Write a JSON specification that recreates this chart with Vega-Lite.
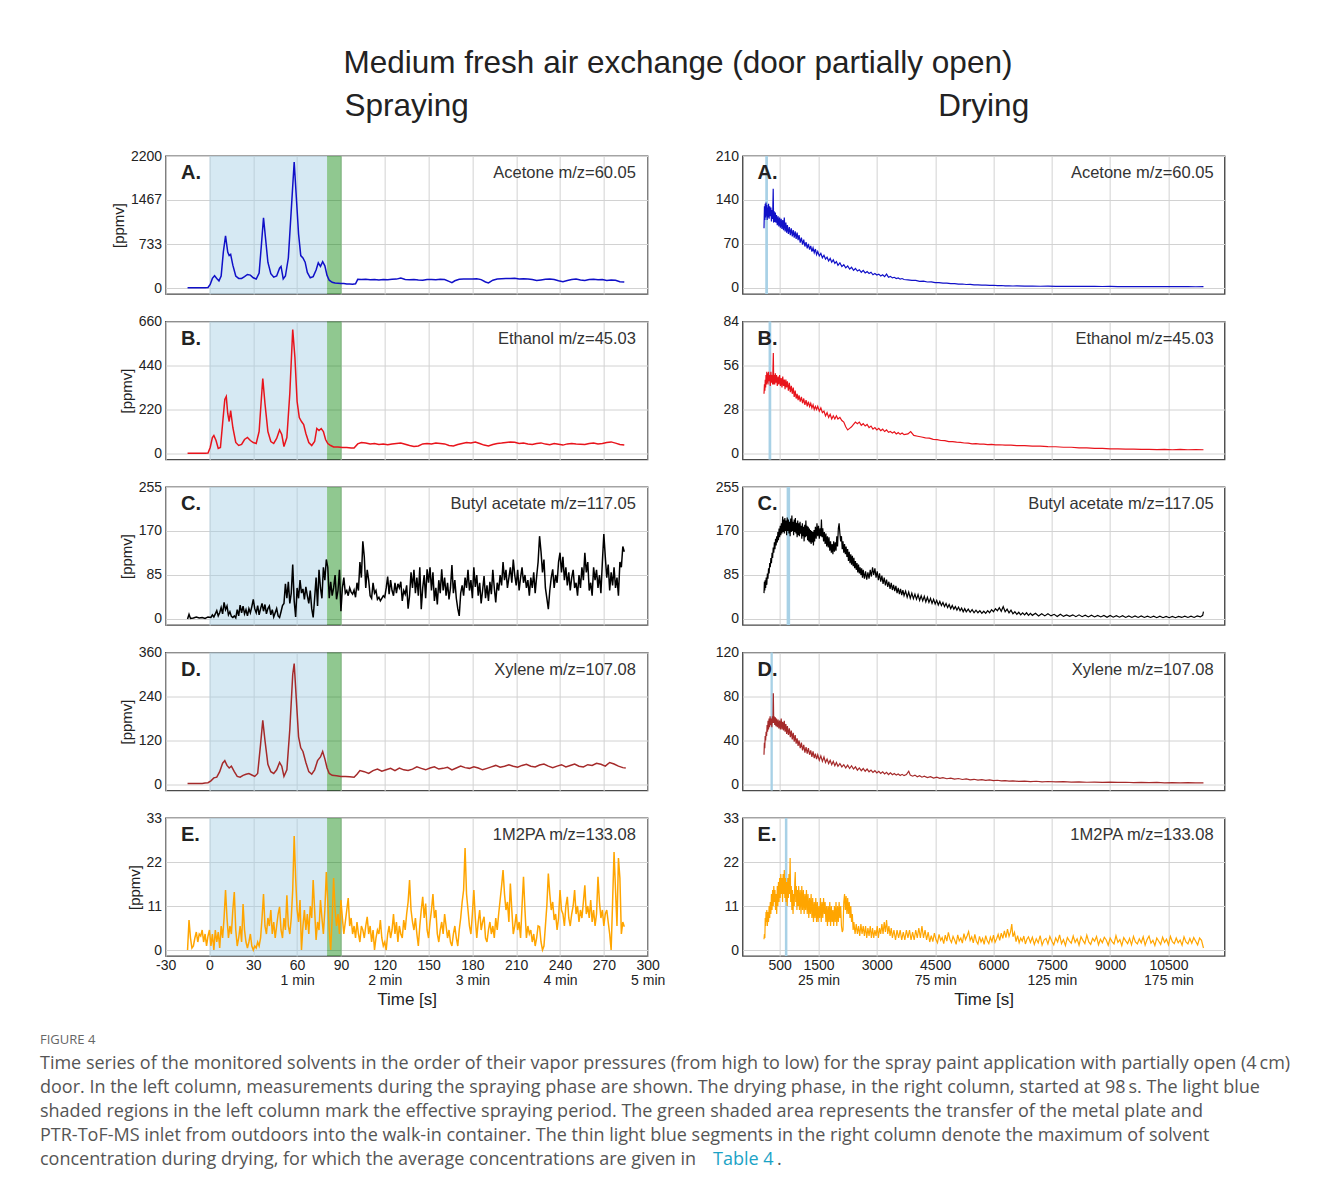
{
"$schema": "https://vega.github.io/schema/vega-lite/v6.json",
"background": "white",
"padding": {"left": 40, "top": 48, "right": 0, "bottom": 10},
"title": {"text": "Medium fresh air exchange (door partially open)", "fontSize": 31.5, "anchor": "middle", "dx": -17.5, "offset": 10},
"datasets": {
"shade": [{"t":0,"t2":80.5,"phase":"spray"},{"t":80.5,"t2":90.5,"phase":"transfer"}],
"maxima": [{"panel":"A","t":130,"t2":200},{"panel":"B","t":215,"t2":285},{"panel":"C","t":680,"t2":770},{"panel":"D","t":265,"t2":325},{"panel":"E","t":635,"t2":700}],
"labels": [{"panel":"A","letter":"A.","name":"Acetone m/z=60.05"},{"panel":"B","letter":"B.","name":"Ethanol m/z=45.03"},{"panel":"C","letter":"C.","name":"Butyl acetate m/z=117.05"},{"panel":"D","letter":"D.","name":"Xylene m/z=107.08"},{"panel":"E","letter":"E.","name":"1M2PA m/z=133.08"}],
"caption": [{"line":0,"kind":"head","text":"FIGURE 4"},{"line":1,"kind":"body","text":"Time series of the monitored solvents in the order of their vapor pressures (from high to low) for the spray paint application with partially open (4\u2009cm)"},{"line":2,"kind":"body","text":"door. In the left column, measurements during the spraying phase are shown. The drying phase, in the right column, started at 98\u2009s. The light blue"},{"line":3,"kind":"body","text":"shaded regions in the left column mark the effective spraying period. The green shaded area represents the transfer of the metal plate and"},{"line":4,"kind":"body","text":"PTR-ToF-MS inlet from outdoors into the walk-in container. The thin light blue segments in the right column denote the maximum of solvent"},{"line":5,"kind":"body","text":"concentration during drying, for which the average concentrations are given in"},{"line":5,"kind":"link","text":"Table 4"},{"line":5,"kind":"dot","text":"."}],
"LA": [{"t":-15,"v":5},{"t":-13,"v":5},{"t":-11,"v":5},{"t":-9,"v":5},{"t":-7,"v":5},{"t":-5,"v":5},{"t":-3,"v":5},{"t":-1,"v":8},{"t":0.5,"v":60},{"t":2,"v":160},{"t":3.5,"v":205},{"t":5,"v":160},{"t":6.5,"v":120},{"t":8,"v":200},{"t":9.5,"v":600},{"t":11,"v":870},{"t":12.5,"v":600},{"t":13.5,"v":540},{"t":14.5,"v":560},{"t":16,"v":380},{"t":18,"v":200},{"t":20,"v":160},{"t":22,"v":160},{"t":24,"v":190},{"t":26,"v":225},{"t":28,"v":215},{"t":30,"v":170},{"t":32,"v":150},{"t":34,"v":250},{"t":35.5,"v":700},{"t":37,"v":1170},{"t":38.5,"v":800},{"t":40,"v":430},{"t":42,"v":240},{"t":44,"v":180},{"t":46,"v":200},{"t":48,"v":330},{"t":49,"v":360},{"t":50.5,"v":150},{"t":52,"v":200},{"t":54,"v":500},{"t":56,"v":1300},{"t":58,"v":2100},{"t":59.5,"v":1500},{"t":61,"v":900},{"t":62.5,"v":540},{"t":64,"v":500},{"t":65.5,"v":430},{"t":67,"v":260},{"t":69,"v":170},{"t":71,"v":190},{"t":73,"v":300},{"t":74.5,"v":420},{"t":76,"v":360},{"t":77.5,"v":440},{"t":79,"v":370},{"t":80.5,"v":210},{"t":82,"v":130},{"t":84,"v":95},{"t":86,"v":85},{"t":88,"v":80},{"t":90,"v":75},{"t":92,"v":75},{"t":94,"v":68},{"t":96,"v":65},{"t":98,"v":62},{"t":100,"v":70},{"t":101.5,"v":145},{"t":104,"v":140},{"t":107,"v":145},{"t":110,"v":138},{"t":113,"v":142},{"t":116,"v":135},{"t":119,"v":140},{"t":122,"v":137},{"t":125,"v":145},{"t":128,"v":148},{"t":131,"v":165},{"t":134,"v":142},{"t":137,"v":138},{"t":140,"v":140},{"t":143,"v":132},{"t":146,"v":128},{"t":149,"v":140},{"t":152,"v":142},{"t":155,"v":138},{"t":158,"v":145},{"t":161,"v":140},{"t":164,"v":110},{"t":166,"v":90},{"t":168,"v":120},{"t":171,"v":145},{"t":174,"v":150},{"t":177,"v":148},{"t":180,"v":152},{"t":183,"v":155},{"t":186,"v":140},{"t":189,"v":100},{"t":191,"v":85},{"t":194,"v":130},{"t":197,"v":150},{"t":200,"v":155},{"t":203,"v":158},{"t":206,"v":160},{"t":209,"v":162},{"t":212,"v":150},{"t":215,"v":155},{"t":218,"v":148},{"t":221,"v":140},{"t":224,"v":125},{"t":227,"v":135},{"t":230,"v":145},{"t":233,"v":150},{"t":236,"v":140},{"t":239,"v":120},{"t":242,"v":105},{"t":245,"v":125},{"t":248,"v":140},{"t":251,"v":150},{"t":254,"v":135},{"t":257,"v":125},{"t":260,"v":140},{"t":263,"v":145},{"t":266,"v":138},{"t":269,"v":140},{"t":272,"v":125},{"t":275,"v":135},{"t":278,"v":130},{"t":281,"v":105},{"t":284,"v":100}],
"LB": [{"t":-15,"v":1},{"t":-13,"v":1},{"t":-11,"v":1},{"t":-9,"v":1},{"t":-7,"v":1},{"t":-5,"v":1},{"t":-3,"v":1},{"t":-1,"v":2},{"t":0.5,"v":30},{"t":2,"v":80},{"t":3,"v":90},{"t":4.5,"v":65},{"t":6,"v":25},{"t":7.5,"v":30},{"t":9,"v":150},{"t":10.5,"v":270},{"t":11.5,"v":285},{"t":12.5,"v":200},{"t":13.5,"v":160},{"t":14.5,"v":215},{"t":16,"v":130},{"t":18,"v":55},{"t":20,"v":40},{"t":22,"v":45},{"t":24,"v":70},{"t":26,"v":80},{"t":28,"v":65},{"t":30,"v":55},{"t":32,"v":50},{"t":34,"v":110},{"t":35.5,"v":270},{"t":36.5,"v":375},{"t":38,"v":250},{"t":40,"v":110},{"t":42,"v":60},{"t":44,"v":50},{"t":46,"v":75},{"t":48,"v":118},{"t":49.5,"v":95},{"t":51,"v":35},{"t":53,"v":80},{"t":55,"v":300},{"t":57,"v":620},{"t":58.5,"v":480},{"t":60,"v":260},{"t":61.5,"v":180},{"t":63,"v":160},{"t":64.5,"v":145},{"t":66,"v":100},{"t":68,"v":55},{"t":70,"v":40},{"t":72,"v":60},{"t":73.5,"v":125},{"t":75,"v":115},{"t":76.5,"v":125},{"t":78,"v":110},{"t":79.5,"v":70},{"t":81,"v":50},{"t":83,"v":40},{"t":85,"v":33},{"t":88,"v":32},{"t":91,"v":30},{"t":94,"v":30},{"t":97,"v":28},{"t":99,"v":28},{"t":101.5,"v":48},{"t":104,"v":55},{"t":107,"v":52},{"t":110,"v":48},{"t":113,"v":50},{"t":116,"v":45},{"t":119,"v":47},{"t":122,"v":44},{"t":125,"v":48},{"t":128,"v":50},{"t":131,"v":52},{"t":134,"v":46},{"t":137,"v":40},{"t":140,"v":35},{"t":143,"v":38},{"t":146,"v":48},{"t":149,"v":50},{"t":152,"v":47},{"t":155,"v":52},{"t":158,"v":50},{"t":161,"v":48},{"t":164,"v":40},{"t":167,"v":38},{"t":170,"v":45},{"t":173,"v":50},{"t":176,"v":55},{"t":179,"v":53},{"t":182,"v":57},{"t":185,"v":50},{"t":188,"v":42},{"t":191,"v":38},{"t":194,"v":45},{"t":197,"v":50},{"t":200,"v":52},{"t":203,"v":55},{"t":206,"v":58},{"t":209,"v":56},{"t":212,"v":50},{"t":215,"v":52},{"t":218,"v":48},{"t":221,"v":45},{"t":224,"v":50},{"t":227,"v":53},{"t":230,"v":47},{"t":233,"v":44},{"t":236,"v":50},{"t":239,"v":46},{"t":242,"v":42},{"t":245,"v":48},{"t":248,"v":50},{"t":251,"v":47},{"t":254,"v":46},{"t":257,"v":45},{"t":260,"v":50},{"t":263,"v":52},{"t":266,"v":48},{"t":269,"v":50},{"t":272,"v":55},{"t":275,"v":58},{"t":278,"v":52},{"t":281,"v":45},{"t":284,"v":42}],
"LC": [{"t":-15,"v":0},{"t":-14,"v":9},{"t":-13,"v":1},{"t":-11,"v":2},{"t":-9,"v":4},{"t":-7,"v":2},{"t":-5,"v":3},{"t":-3,"v":1},{"t":-1,"v":4},{"t":1,"v":3},{"t":2,"v":8},{"t":3,"v":4},{"t":4,"v":10},{"t":5,"v":16},{"t":6,"v":6},{"t":7,"v":12},{"t":8,"v":22},{"t":9,"v":10},{"t":10,"v":32},{"t":11,"v":18},{"t":12,"v":25},{"t":13,"v":8},{"t":14,"v":14},{"t":15,"v":5},{"t":16,"v":3},{"t":17,"v":6},{"t":18,"v":2},{"t":19,"v":18},{"t":20,"v":6},{"t":21,"v":27},{"t":22,"v":12},{"t":23,"v":25},{"t":24,"v":10},{"t":25,"v":18},{"t":26,"v":6},{"t":27,"v":20},{"t":28,"v":12},{"t":29,"v":24},{"t":30,"v":38},{"t":31,"v":20},{"t":32,"v":12},{"t":33,"v":26},{"t":34,"v":8},{"t":35,"v":20},{"t":36,"v":30},{"t":37,"v":15},{"t":38,"v":28},{"t":39,"v":10},{"t":40,"v":20},{"t":41,"v":25},{"t":42,"v":8},{"t":43,"v":18},{"t":44,"v":4},{"t":45,"v":12},{"t":46,"v":20},{"t":47,"v":6},{"t":48,"v":3},{"t":49,"v":14},{"t":50,"v":26},{"t":51,"v":30},{"t":52,"v":68},{"t":53,"v":40},{"t":54,"v":72},{"t":55,"v":30},{"t":56,"v":50},{"t":57,"v":105},{"t":58,"v":35},{"t":59,"v":4},{"t":60,"v":60},{"t":61,"v":40},{"t":62,"v":75},{"t":63,"v":50},{"t":64,"v":58},{"t":65,"v":38},{"t":66,"v":62},{"t":67,"v":45},{"t":68,"v":30},{"t":69,"v":55},{"t":70,"v":20},{"t":71,"v":3},{"t":72,"v":40},{"t":73,"v":80},{"t":74,"v":25},{"t":75,"v":95},{"t":76,"v":60},{"t":77,"v":40},{"t":78,"v":100},{"t":79,"v":75},{"t":80,"v":115},{"t":81,"v":100},{"t":82,"v":40},{"t":83,"v":72},{"t":84,"v":45},{"t":85,"v":60},{"t":86,"v":85},{"t":87,"v":38},{"t":88,"v":55},{"t":89,"v":95},{"t":90,"v":15},{"t":91,"v":60},{"t":92,"v":80},{"t":93,"v":50},{"t":94,"v":55},{"t":95,"v":45},{"t":96,"v":60},{"t":97,"v":52},{"t":98,"v":48},{"t":99,"v":56},{"t":100,"v":42},{"t":101,"v":70},{"t":102,"v":55},{"t":103,"v":110},{"t":104,"v":80},{"t":105,"v":150},{"t":106,"v":120},{"t":107,"v":60},{"t":108,"v":95},{"t":109,"v":75},{"t":110,"v":45},{"t":111,"v":40},{"t":112,"v":70},{"t":113,"v":50},{"t":114,"v":55},{"t":115,"v":38},{"t":116,"v":42},{"t":117,"v":35},{"t":118,"v":40},{"t":119,"v":45},{"t":120,"v":42},{"t":121,"v":60},{"t":122,"v":82},{"t":123,"v":48},{"t":124,"v":75},{"t":125,"v":55},{"t":126,"v":45},{"t":127,"v":70},{"t":128,"v":50},{"t":129,"v":68},{"t":130,"v":60},{"t":131,"v":72},{"t":132,"v":35},{"t":133,"v":55},{"t":134,"v":48},{"t":135,"v":65},{"t":136,"v":20},{"t":137,"v":45},{"t":138,"v":90},{"t":139,"v":60},{"t":140,"v":95},{"t":141,"v":50},{"t":142,"v":80},{"t":143,"v":45},{"t":144,"v":100},{"t":145,"v":19},{"t":146,"v":60},{"t":147,"v":85},{"t":148,"v":40},{"t":149,"v":96},{"t":150,"v":70},{"t":151,"v":100},{"t":152,"v":55},{"t":153,"v":90},{"t":154,"v":35},{"t":155,"v":60},{"t":156,"v":28},{"t":157,"v":75},{"t":158,"v":50},{"t":159,"v":96},{"t":160,"v":55},{"t":161,"v":80},{"t":162,"v":45},{"t":163,"v":70},{"t":164,"v":38},{"t":165,"v":60},{"t":166,"v":104},{"t":167,"v":50},{"t":168,"v":75},{"t":169,"v":40},{"t":170,"v":20},{"t":171,"v":6},{"t":172,"v":50},{"t":173,"v":65},{"t":174,"v":45},{"t":175,"v":80},{"t":176,"v":60},{"t":177,"v":95},{"t":178,"v":55},{"t":179,"v":75},{"t":180,"v":40},{"t":181,"v":100},{"t":182,"v":62},{"t":183,"v":85},{"t":184,"v":45},{"t":185,"v":70},{"t":186,"v":30},{"t":187,"v":55},{"t":188,"v":83},{"t":189,"v":40},{"t":190,"v":65},{"t":191,"v":35},{"t":192,"v":72},{"t":193,"v":48},{"t":194,"v":95},{"t":195,"v":60},{"t":196,"v":32},{"t":197,"v":70},{"t":198,"v":55},{"t":199,"v":85},{"t":200,"v":65},{"t":201,"v":110},{"t":202,"v":75},{"t":203,"v":95},{"t":204,"v":60},{"t":205,"v":80},{"t":206,"v":100},{"t":207,"v":70},{"t":208,"v":115},{"t":209,"v":85},{"t":210,"v":65},{"t":211,"v":95},{"t":212,"v":55},{"t":213,"v":80},{"t":214,"v":100},{"t":215,"v":70},{"t":216,"v":85},{"t":217,"v":60},{"t":218,"v":75},{"t":219,"v":45},{"t":220,"v":80},{"t":221,"v":60},{"t":222,"v":90},{"t":223,"v":50},{"t":224,"v":82},{"t":225,"v":110},{"t":226,"v":160},{"t":227,"v":130},{"t":228,"v":90},{"t":229,"v":115},{"t":230,"v":60},{"t":231,"v":40},{"t":232,"v":19},{"t":233,"v":55},{"t":234,"v":80},{"t":235,"v":96},{"t":236,"v":60},{"t":237,"v":85},{"t":238,"v":70},{"t":239,"v":110},{"t":240,"v":128},{"t":241,"v":90},{"t":242,"v":120},{"t":243,"v":75},{"t":244,"v":100},{"t":245,"v":65},{"t":246,"v":90},{"t":247,"v":55},{"t":248,"v":80},{"t":249,"v":95},{"t":250,"v":60},{"t":251,"v":70},{"t":252,"v":45},{"t":253,"v":85},{"t":254,"v":60},{"t":255,"v":100},{"t":256,"v":75},{"t":257,"v":128},{"t":258,"v":90},{"t":259,"v":110},{"t":260,"v":55},{"t":261,"v":70},{"t":262,"v":45},{"t":263,"v":100},{"t":264,"v":75},{"t":265,"v":95},{"t":266,"v":60},{"t":267,"v":85},{"t":268,"v":50},{"t":269,"v":110},{"t":270,"v":164},{"t":271,"v":120},{"t":272,"v":80},{"t":273,"v":105},{"t":274,"v":55},{"t":275,"v":90},{"t":276,"v":65},{"t":277,"v":100},{"t":278,"v":60},{"t":279,"v":80},{"t":280,"v":45},{"t":281,"v":110},{"t":282,"v":100},{"t":283,"v":140},{"t":284,"v":130}],
"LD": [{"t":-15,"v":3},{"t":-13,"v":3},{"t":-11,"v":3},{"t":-9,"v":3},{"t":-7,"v":3},{"t":-5,"v":3},{"t":-3,"v":4},{"t":-1,"v":5},{"t":1,"v":10},{"t":3,"v":18},{"t":5,"v":20},{"t":7,"v":35},{"t":9,"v":58},{"t":10.5,"v":65},{"t":12,"v":52},{"t":13.5,"v":45},{"t":15,"v":50},{"t":17,"v":35},{"t":19,"v":22},{"t":21,"v":20},{"t":23,"v":25},{"t":25,"v":28},{"t":27,"v":30},{"t":29,"v":26},{"t":31,"v":22},{"t":33,"v":30},{"t":35,"v":110},{"t":36.5,"v":175},{"t":38,"v":120},{"t":40,"v":55},{"t":42,"v":35},{"t":44,"v":30},{"t":46,"v":40},{"t":48,"v":60},{"t":49.5,"v":50},{"t":51,"v":22},{"t":53,"v":40},{"t":55,"v":150},{"t":57,"v":300},{"t":58,"v":330},{"t":59.5,"v":230},{"t":61,"v":130},{"t":62.5,"v":100},{"t":64,"v":90},{"t":66,"v":60},{"t":68,"v":35},{"t":70,"v":28},{"t":72,"v":40},{"t":74,"v":65},{"t":76,"v":75},{"t":77.5,"v":90},{"t":79,"v":70},{"t":80.5,"v":45},{"t":82,"v":30},{"t":84,"v":25},{"t":87,"v":24},{"t":90,"v":22},{"t":93,"v":22},{"t":96,"v":21},{"t":99,"v":20},{"t":101,"v":28},{"t":103,"v":38},{"t":106,"v":35},{"t":109,"v":30},{"t":112,"v":38},{"t":115,"v":42},{"t":118,"v":36},{"t":121,"v":40},{"t":124,"v":44},{"t":127,"v":38},{"t":130,"v":45},{"t":133,"v":40},{"t":136,"v":38},{"t":139,"v":42},{"t":142,"v":48},{"t":145,"v":44},{"t":148,"v":40},{"t":151,"v":45},{"t":154,"v":48},{"t":157,"v":42},{"t":160,"v":44},{"t":163,"v":47},{"t":166,"v":40},{"t":169,"v":45},{"t":172,"v":50},{"t":175,"v":46},{"t":178,"v":44},{"t":181,"v":48},{"t":184,"v":45},{"t":187,"v":40},{"t":190,"v":44},{"t":193,"v":48},{"t":196,"v":52},{"t":199,"v":47},{"t":202,"v":50},{"t":205,"v":54},{"t":208,"v":50},{"t":211,"v":47},{"t":214,"v":52},{"t":217,"v":55},{"t":220,"v":50},{"t":223,"v":48},{"t":226,"v":53},{"t":229,"v":56},{"t":232,"v":50},{"t":235,"v":46},{"t":238,"v":50},{"t":241,"v":54},{"t":244,"v":48},{"t":247,"v":52},{"t":250,"v":56},{"t":253,"v":50},{"t":256,"v":48},{"t":259,"v":54},{"t":262,"v":52},{"t":265,"v":58},{"t":268,"v":55},{"t":271,"v":50},{"t":274,"v":60},{"t":277,"v":56},{"t":280,"v":50},{"t":283,"v":46},{"t":285,"v":45}],
"LE": [{"t":-15,"v":0},{"t":-14,"v":7.5},{"t":-13,"v":3},{"t":-12,"v":0.5},{"t":-11,"v":1},{"t":-10,"v":3},{"t":-9,"v":4.5},{"t":-8,"v":2},{"t":-7,"v":4},{"t":-6,"v":3.5},{"t":-5,"v":5},{"t":-4,"v":2},{"t":-3,"v":4},{"t":-2,"v":1},{"t":-1,"v":3.5},{"t":0,"v":5},{"t":1,"v":1},{"t":2,"v":4},{"t":3,"v":0},{"t":4,"v":5},{"t":5,"v":2},{"t":6,"v":4.5},{"t":7,"v":0.5},{"t":8,"v":6},{"t":9,"v":3},{"t":10,"v":8},{"t":11,"v":15},{"t":12,"v":8},{"t":13,"v":3},{"t":14,"v":6},{"t":15,"v":4},{"t":16,"v":10},{"t":17,"v":14.5},{"t":18,"v":5},{"t":19,"v":1},{"t":20,"v":3},{"t":21,"v":6},{"t":22,"v":2},{"t":23,"v":11.5},{"t":24,"v":5},{"t":25,"v":2},{"t":26,"v":0.5},{"t":27,"v":2},{"t":28,"v":4},{"t":29,"v":1},{"t":30,"v":0},{"t":31,"v":1},{"t":32,"v":0.5},{"t":33,"v":2},{"t":34,"v":1},{"t":35,"v":3},{"t":36,"v":8},{"t":37,"v":14},{"t":38,"v":6},{"t":39,"v":4},{"t":40,"v":8},{"t":41,"v":6},{"t":42,"v":10},{"t":43,"v":4},{"t":44,"v":7},{"t":45,"v":3},{"t":46,"v":6},{"t":47,"v":9},{"t":48,"v":10.8},{"t":49,"v":5},{"t":50,"v":3},{"t":51,"v":8},{"t":52,"v":5},{"t":53,"v":13.7},{"t":54,"v":6},{"t":55,"v":4},{"t":56,"v":8},{"t":57,"v":15},{"t":58,"v":28.5},{"t":59,"v":18},{"t":60,"v":10},{"t":61,"v":7},{"t":62,"v":12.5},{"t":63,"v":0},{"t":64,"v":6},{"t":65,"v":10},{"t":66,"v":5},{"t":67,"v":9},{"t":68,"v":4},{"t":69,"v":11},{"t":70,"v":8},{"t":71,"v":17.5},{"t":72,"v":10},{"t":73,"v":2.5},{"t":74,"v":7},{"t":75,"v":5},{"t":76,"v":12.5},{"t":77,"v":8},{"t":78,"v":4},{"t":79,"v":10},{"t":80,"v":19.5},{"t":81,"v":12},{"t":82,"v":5},{"t":83,"v":0},{"t":84,"v":8},{"t":85,"v":18},{"t":86,"v":10},{"t":87,"v":6},{"t":88,"v":9},{"t":89,"v":4},{"t":90,"v":12.5},{"t":91,"v":8},{"t":92,"v":4},{"t":93,"v":7},{"t":94,"v":10},{"t":95,"v":13},{"t":96,"v":6},{"t":97,"v":8},{"t":98,"v":4},{"t":99,"v":6},{"t":100,"v":3},{"t":101,"v":7},{"t":102,"v":4},{"t":103,"v":2},{"t":104,"v":6},{"t":105,"v":5},{"t":106,"v":3},{"t":107,"v":6},{"t":108,"v":8.3},{"t":109,"v":4},{"t":110,"v":6},{"t":111,"v":2},{"t":112,"v":5},{"t":113,"v":0},{"t":114,"v":3},{"t":115,"v":5},{"t":116,"v":4},{"t":117,"v":7.5},{"t":118,"v":3},{"t":119,"v":1},{"t":120,"v":2},{"t":121,"v":0},{"t":122,"v":4},{"t":123,"v":6},{"t":124,"v":3},{"t":125,"v":5},{"t":126,"v":9},{"t":127,"v":4},{"t":128,"v":7},{"t":129,"v":2},{"t":130,"v":6},{"t":131,"v":4},{"t":132,"v":3},{"t":133,"v":7.5},{"t":134,"v":5},{"t":135,"v":9},{"t":136,"v":12},{"t":137,"v":17.5},{"t":138,"v":10},{"t":139,"v":7},{"t":140,"v":5},{"t":141,"v":8},{"t":142,"v":4},{"t":143,"v":1},{"t":144,"v":6},{"t":145,"v":10},{"t":146,"v":13.3},{"t":147,"v":8},{"t":148,"v":11.6},{"t":149,"v":5},{"t":150,"v":3},{"t":151,"v":7},{"t":152,"v":10},{"t":153,"v":14},{"t":154,"v":8},{"t":155,"v":10},{"t":156,"v":4},{"t":157,"v":2},{"t":158,"v":5},{"t":159,"v":7},{"t":160,"v":4},{"t":161,"v":9},{"t":162,"v":6},{"t":163,"v":3},{"t":164,"v":5},{"t":165,"v":2},{"t":166,"v":1},{"t":167,"v":4},{"t":168,"v":6},{"t":169,"v":3},{"t":170,"v":1},{"t":171,"v":5},{"t":172,"v":8},{"t":173,"v":12},{"t":174,"v":15},{"t":175,"v":25.5},{"t":176,"v":14},{"t":177,"v":10},{"t":178,"v":6},{"t":179,"v":4},{"t":180,"v":9},{"t":181,"v":15},{"t":182,"v":8},{"t":183,"v":3},{"t":184,"v":7},{"t":185,"v":10},{"t":186,"v":5},{"t":187,"v":7},{"t":188,"v":8.3},{"t":189,"v":3},{"t":190,"v":2},{"t":191,"v":5},{"t":192,"v":7},{"t":193,"v":4},{"t":194,"v":6},{"t":195,"v":3},{"t":196,"v":8},{"t":197,"v":5},{"t":198,"v":9},{"t":199,"v":12.5},{"t":200,"v":16},{"t":201,"v":20},{"t":202,"v":14},{"t":203,"v":10},{"t":204,"v":12},{"t":205,"v":7},{"t":206,"v":16.6},{"t":207,"v":10},{"t":208,"v":4},{"t":209,"v":6},{"t":210,"v":9},{"t":211,"v":5},{"t":212,"v":7},{"t":213,"v":3},{"t":214,"v":11},{"t":215,"v":18.3},{"t":216,"v":10},{"t":217,"v":3},{"t":218,"v":6},{"t":219,"v":4},{"t":220,"v":5},{"t":221,"v":2},{"t":222,"v":4},{"t":223,"v":1},{"t":224,"v":3},{"t":225,"v":6},{"t":226,"v":5.8},{"t":227,"v":2},{"t":228,"v":0},{"t":229,"v":1},{"t":230,"v":6},{"t":231,"v":11.2},{"t":232,"v":19.1},{"t":233,"v":14},{"t":234,"v":10},{"t":235,"v":12},{"t":236,"v":7.5},{"t":237,"v":9},{"t":238,"v":5},{"t":239,"v":8},{"t":240,"v":15},{"t":241,"v":10},{"t":242,"v":9},{"t":243,"v":6},{"t":244,"v":11},{"t":245,"v":13.3},{"t":246,"v":8},{"t":247,"v":6},{"t":248,"v":9},{"t":249,"v":11},{"t":250,"v":15},{"t":251,"v":9},{"t":252,"v":11},{"t":253,"v":7},{"t":254,"v":10},{"t":255,"v":8},{"t":256,"v":12},{"t":257,"v":16.2},{"t":258,"v":9},{"t":259,"v":11},{"t":260,"v":8},{"t":261,"v":12.5},{"t":262,"v":7},{"t":263,"v":10},{"t":264,"v":6},{"t":265,"v":9},{"t":266,"v":18.3},{"t":267,"v":12},{"t":268,"v":8},{"t":269,"v":10},{"t":270,"v":6},{"t":271,"v":9},{"t":272,"v":10},{"t":273,"v":7},{"t":274,"v":4},{"t":275,"v":0},{"t":276,"v":12},{"t":277,"v":24.5},{"t":278,"v":15},{"t":279,"v":6},{"t":280,"v":23},{"t":281,"v":18},{"t":282,"v":4},{"t":283,"v":7},{"t":284,"v":5.8}],
"RA": [{"t":98,"v":95},{"t":110,"v":130},{"t":120,"v":108},{"t":130,"v":134},{"t":140,"v":112},{"t":150,"v":136},{"t":160,"v":115},{"t":170,"v":132},{"t":180,"v":108},{"t":190,"v":128},{"t":200,"v":112},{"t":215,"v":134},{"t":230,"v":110},{"t":245,"v":130},{"t":260,"v":114},{"t":275,"v":128},{"t":290,"v":106},{"t":305,"v":124},{"t":320,"v":110},{"t":335,"v":158},{"t":345,"v":104},{"t":360,"v":122},{"t":375,"v":105},{"t":390,"v":120},{"t":405,"v":104},{"t":420,"v":116},{"t":440,"v":100},{"t":460,"v":114},{"t":480,"v":98},{"t":500,"v":112},{"t":520,"v":96},{"t":540,"v":110},{"t":560,"v":94},{"t":580,"v":108},{"t":600,"v":92},{"t":620,"v":112},{"t":640,"v":90},{"t":660,"v":104},{"t":680,"v":88},{"t":700,"v":100},{"t":725,"v":86},{"t":750,"v":97},{"t":775,"v":84},{"t":800,"v":95},{"t":825,"v":82},{"t":850,"v":92},{"t":875,"v":80},{"t":900,"v":90},{"t":925,"v":78},{"t":950,"v":88},{"t":975,"v":76},{"t":1000,"v":84},{"t":1030,"v":72},{"t":1060,"v":80},{"t":1090,"v":69},{"t":1120,"v":77},{"t":1150,"v":66},{"t":1180,"v":73},{"t":1210,"v":63},{"t":1240,"v":70},{"t":1270,"v":61},{"t":1300,"v":67},{"t":1330,"v":58},{"t":1360,"v":64},{"t":1390,"v":56},{"t":1420,"v":62},{"t":1450,"v":53},{"t":1480,"v":58},{"t":1520,"v":51},{"t":1560,"v":55},{"t":1600,"v":48},{"t":1640,"v":52},{"t":1680,"v":46},{"t":1720,"v":49},{"t":1760,"v":43},{"t":1800,"v":47},{"t":1840,"v":41},{"t":1880,"v":45},{"t":1920,"v":39},{"t":1960,"v":42},{"t":2000,"v":36},{"t":2050,"v":40},{"t":2100,"v":34},{"t":2150,"v":37},{"t":2200,"v":32},{"t":2250,"v":35},{"t":2300,"v":30},{"t":2350,"v":33},{"t":2400,"v":28},{"t":2450,"v":31},{"t":2500,"v":27},{"t":2550,"v":29},{"t":2600,"v":25},{"t":2650,"v":28},{"t":2700,"v":24},{"t":2750,"v":26},{"t":2800,"v":23},{"t":2850,"v":25},{"t":2900,"v":21},{"t":2950,"v":23},{"t":3000,"v":20.5},{"t":3050,"v":22},{"t":3100,"v":19},{"t":3150,"v":21},{"t":3200,"v":18},{"t":3250,"v":22},{"t":3300,"v":17},{"t":3350,"v":18.5},{"t":3400,"v":16},{"t":3450,"v":17},{"t":3500,"v":15},{"t":3550,"v":16},{"t":3600,"v":14},{"t":3650,"v":15},{"t":3700,"v":13.5},{"t":3800,"v":13},{"t":3900,"v":12},{"t":4000,"v":12},{"t":4100,"v":10.5},{"t":4200,"v":11},{"t":4300,"v":9.5},{"t":4400,"v":9.8},{"t":4500,"v":8.5},{"t":4600,"v":8.6},{"t":4700,"v":7.6},{"t":4800,"v":7.8},{"t":4900,"v":6.8},{"t":5000,"v":7},{"t":5100,"v":6.2},{"t":5200,"v":6.3},{"t":5300,"v":5.5},{"t":5400,"v":5.6},{"t":5500,"v":4.8},{"t":5600,"v":5},{"t":5700,"v":4.4},{"t":5800,"v":4.6},{"t":5900,"v":4.1},{"t":6000,"v":4.3},{"t":6100,"v":3.8},{"t":6200,"v":3.9},{"t":6300,"v":3.4},{"t":6400,"v":3.5},{"t":6500,"v":3.1},{"t":6600,"v":3.2},{"t":6800,"v":2.9},{"t":7000,"v":3},{"t":7200,"v":2.7},{"t":7400,"v":2.8},{"t":7600,"v":2.6},{"t":7800,"v":2.7},{"t":8000,"v":2.5},{"t":8200,"v":2.6},{"t":8400,"v":2.4},{"t":8600,"v":2.5},{"t":8800,"v":2.3},{"t":9000,"v":2.4},{"t":9200,"v":2.2},{"t":9400,"v":2.3},{"t":9600,"v":2.1},{"t":9800,"v":2.2},{"t":10000,"v":2.1},{"t":10200,"v":2.2},{"t":10400,"v":2},{"t":10600,"v":2.1},{"t":10800,"v":2},{"t":11000,"v":2.1},{"t":11200,"v":1.9},{"t":11400,"v":2}],
"RB": [{"t":98,"v":38},{"t":110,"v":44},{"t":120,"v":40},{"t":130,"v":47},{"t":140,"v":42},{"t":150,"v":50},{"t":160,"v":44},{"t":170,"v":52},{"t":180,"v":45},{"t":190,"v":51},{"t":200,"v":44},{"t":215,"v":52},{"t":230,"v":46},{"t":245,"v":50},{"t":260,"v":43},{"t":275,"v":52},{"t":290,"v":45},{"t":305,"v":50},{"t":320,"v":44},{"t":338,"v":64},{"t":348,"v":44},{"t":360,"v":50},{"t":375,"v":44},{"t":390,"v":51},{"t":405,"v":45},{"t":420,"v":50},{"t":440,"v":43},{"t":460,"v":49},{"t":480,"v":44},{"t":500,"v":50},{"t":520,"v":43},{"t":540,"v":48},{"t":560,"v":42},{"t":580,"v":49},{"t":600,"v":43},{"t":620,"v":47},{"t":640,"v":41},{"t":660,"v":47},{"t":680,"v":42},{"t":700,"v":46},{"t":725,"v":40},{"t":750,"v":45},{"t":775,"v":39},{"t":800,"v":43},{"t":825,"v":38},{"t":850,"v":42},{"t":875,"v":36},{"t":900,"v":40},{"t":925,"v":35},{"t":950,"v":38},{"t":975,"v":34},{"t":1000,"v":37},{"t":1030,"v":33},{"t":1060,"v":36},{"t":1090,"v":32},{"t":1120,"v":35},{"t":1150,"v":31},{"t":1180,"v":34},{"t":1210,"v":30},{"t":1240,"v":33},{"t":1270,"v":30},{"t":1300,"v":32},{"t":1330,"v":29},{"t":1360,"v":31},{"t":1390,"v":28},{"t":1420,"v":30},{"t":1450,"v":28},{"t":1480,"v":30},{"t":1520,"v":27},{"t":1560,"v":29},{"t":1600,"v":26},{"t":1640,"v":27},{"t":1680,"v":24},{"t":1720,"v":26},{"t":1760,"v":23},{"t":1800,"v":25},{"t":1840,"v":22},{"t":1880,"v":24},{"t":1920,"v":22},{"t":1960,"v":24},{"t":2000,"v":22},{"t":2050,"v":23},{"t":2100,"v":21},{"t":2150,"v":20},{"t":2200,"v":17},{"t":2250,"v":15},{"t":2300,"v":16},{"t":2350,"v":17},{"t":2400,"v":18.5},{"t":2450,"v":20},{"t":2500,"v":19},{"t":2550,"v":20},{"t":2600,"v":18},{"t":2650,"v":19},{"t":2700,"v":17.5},{"t":2750,"v":18.5},{"t":2800,"v":16.5},{"t":2850,"v":17.5},{"t":2900,"v":15.5},{"t":2950,"v":16.5},{"t":3000,"v":15},{"t":3050,"v":16},{"t":3100,"v":14.5},{"t":3150,"v":15.5},{"t":3200,"v":14},{"t":3250,"v":15},{"t":3300,"v":13.5},{"t":3350,"v":14},{"t":3400,"v":13},{"t":3450,"v":13.8},{"t":3500,"v":12.5},{"t":3550,"v":13.3},{"t":3600,"v":12.2},{"t":3650,"v":13},{"t":3700,"v":12},{"t":3800,"v":12.5},{"t":3870,"v":14},{"t":3950,"v":11.5},{"t":4050,"v":11},{"t":4150,"v":10.5},{"t":4250,"v":10},{"t":4350,"v":9.8},{"t":4450,"v":9},{"t":4550,"v":8.8},{"t":4650,"v":8.3},{"t":4750,"v":8.2},{"t":4850,"v":7.6},{"t":4950,"v":7.6},{"t":5050,"v":7.2},{"t":5150,"v":7.1},{"t":5250,"v":6.7},{"t":5350,"v":6.6},{"t":5450,"v":6.2},{"t":5550,"v":6.3},{"t":5650,"v":6},{"t":5750,"v":6},{"t":5850,"v":5.7},{"t":5950,"v":5.8},{"t":6050,"v":5.5},{"t":6150,"v":5.6},{"t":6300,"v":5.3},{"t":6450,"v":5.4},{"t":6600,"v":5},{"t":6800,"v":5},{"t":7000,"v":4.7},{"t":7200,"v":4.7},{"t":7400,"v":4.4},{"t":7600,"v":4.3},{"t":7800,"v":4},{"t":8000,"v":4},{"t":8200,"v":3.6},{"t":8400,"v":3.6},{"t":8600,"v":3.3},{"t":8800,"v":3.3},{"t":9000,"v":3},{"t":9200,"v":3},{"t":9400,"v":2.8},{"t":9600,"v":2.8},{"t":9800,"v":2.6},{"t":10000,"v":2.7},{"t":10200,"v":2.5},{"t":10400,"v":2.6},{"t":10600,"v":2.4},{"t":10800,"v":2.6},{"t":11000,"v":2.4},{"t":11200,"v":2.5},{"t":11400,"v":2.4}],
"RC": [{"t":98,"v":50},{"t":108,"v":72},{"t":118,"v":55},{"t":128,"v":75},{"t":140,"v":60},{"t":155,"v":80},{"t":170,"v":66},{"t":185,"v":88},{"t":200,"v":78},{"t":215,"v":98},{"t":230,"v":88},{"t":245,"v":108},{"t":260,"v":100},{"t":275,"v":118},{"t":290,"v":108},{"t":305,"v":128},{"t":320,"v":118},{"t":335,"v":138},{"t":350,"v":128},{"t":365,"v":148},{"t":380,"v":135},{"t":395,"v":155},{"t":410,"v":142},{"t":425,"v":160},{"t":440,"v":148},{"t":455,"v":168},{"t":470,"v":152},{"t":485,"v":175},{"t":500,"v":158},{"t":515,"v":180},{"t":530,"v":162},{"t":545,"v":185},{"t":560,"v":165},{"t":578,"v":198},{"t":590,"v":168},{"t":605,"v":192},{"t":620,"v":165},{"t":635,"v":195},{"t":650,"v":170},{"t":665,"v":190},{"t":680,"v":162},{"t":695,"v":196},{"t":710,"v":170},{"t":725,"v":192},{"t":740,"v":165},{"t":755,"v":188},{"t":770,"v":160},{"t":785,"v":194},{"t":800,"v":168},{"t":815,"v":200},{"t":830,"v":170},{"t":845,"v":188},{"t":860,"v":162},{"t":875,"v":192},{"t":890,"v":168},{"t":905,"v":195},{"t":920,"v":165},{"t":935,"v":186},{"t":950,"v":158},{"t":965,"v":190},{"t":980,"v":162},{"t":995,"v":185},{"t":1010,"v":160},{"t":1025,"v":188},{"t":1040,"v":165},{"t":1055,"v":180},{"t":1070,"v":155},{"t":1085,"v":185},{"t":1100,"v":160},{"t":1115,"v":178},{"t":1130,"v":150},{"t":1145,"v":182},{"t":1160,"v":158},{"t":1175,"v":190},{"t":1190,"v":160},{"t":1205,"v":180},{"t":1220,"v":152},{"t":1235,"v":178},{"t":1250,"v":150},{"t":1265,"v":175},{"t":1280,"v":148},{"t":1295,"v":172},{"t":1310,"v":145},{"t":1325,"v":170},{"t":1340,"v":148},{"t":1355,"v":168},{"t":1370,"v":142},{"t":1385,"v":172},{"t":1400,"v":150},{"t":1420,"v":178},{"t":1440,"v":155},{"t":1460,"v":185},{"t":1480,"v":160},{"t":1500,"v":180},{"t":1520,"v":155},{"t":1540,"v":175},{"t":1560,"v":160},{"t":1575,"v":192},{"t":1590,"v":158},{"t":1610,"v":175},{"t":1630,"v":150},{"t":1650,"v":168},{"t":1670,"v":145},{"t":1690,"v":165},{"t":1710,"v":140},{"t":1730,"v":160},{"t":1750,"v":138},{"t":1770,"v":158},{"t":1790,"v":132},{"t":1810,"v":150},{"t":1830,"v":128},{"t":1850,"v":145},{"t":1870,"v":125},{"t":1890,"v":150},{"t":1910,"v":130},{"t":1930,"v":148},{"t":1950,"v":132},{"t":1970,"v":160},{"t":1990,"v":140},{"t":2010,"v":175},{"t":2030,"v":185},{"t":2050,"v":165},{"t":2070,"v":150},{"t":2090,"v":160},{"t":2110,"v":135},{"t":2130,"v":150},{"t":2150,"v":128},{"t":2170,"v":145},{"t":2190,"v":125},{"t":2210,"v":140},{"t":2230,"v":120},{"t":2250,"v":135},{"t":2270,"v":112},{"t":2290,"v":130},{"t":2310,"v":108},{"t":2330,"v":125},{"t":2350,"v":105},{"t":2370,"v":122},{"t":2390,"v":102},{"t":2410,"v":118},{"t":2430,"v":98},{"t":2450,"v":112},{"t":2470,"v":95},{"t":2490,"v":108},{"t":2510,"v":90},{"t":2530,"v":105},{"t":2550,"v":88},{"t":2570,"v":100},{"t":2590,"v":85},{"t":2610,"v":98},{"t":2630,"v":80},{"t":2650,"v":95},{"t":2680,"v":78},{"t":2710,"v":92},{"t":2740,"v":76},{"t":2770,"v":90},{"t":2800,"v":78},{"t":2830,"v":95},{"t":2860,"v":82},{"t":2890,"v":100},{"t":2920,"v":85},{"t":2950,"v":98},{"t":2980,"v":80},{"t":3010,"v":92},{"t":3040,"v":75},{"t":3070,"v":88},{"t":3100,"v":72},{"t":3130,"v":84},{"t":3160,"v":68},{"t":3190,"v":80},{"t":3220,"v":65},{"t":3250,"v":76},{"t":3280,"v":62},{"t":3310,"v":72},{"t":3340,"v":58},{"t":3370,"v":70},{"t":3400,"v":56},{"t":3430,"v":66},{"t":3460,"v":54},{"t":3490,"v":64},{"t":3520,"v":50},{"t":3550,"v":60},{"t":3580,"v":48},{"t":3610,"v":58},{"t":3640,"v":46},{"t":3670,"v":56},{"t":3700,"v":45},{"t":3740,"v":54},{"t":3780,"v":42},{"t":3820,"v":52},{"t":3860,"v":40},{"t":3900,"v":50},{"t":3940,"v":39},{"t":3980,"v":48},{"t":4020,"v":38},{"t":4060,"v":47},{"t":4100,"v":36},{"t":4140,"v":45},{"t":4180,"v":35},{"t":4220,"v":44},{"t":4260,"v":33},{"t":4300,"v":42},{"t":4340,"v":32},{"t":4380,"v":40},{"t":4420,"v":30},{"t":4460,"v":38},{"t":4500,"v":29},{"t":4540,"v":36},{"t":4580,"v":27},{"t":4620,"v":34},{"t":4660,"v":26},{"t":4700,"v":32},{"t":4740,"v":24},{"t":4780,"v":30},{"t":4820,"v":22},{"t":4860,"v":28},{"t":4900,"v":20},{"t":4940,"v":26},{"t":4980,"v":19},{"t":5020,"v":24},{"t":5060,"v":17},{"t":5100,"v":23},{"t":5140,"v":16},{"t":5180,"v":21},{"t":5220,"v":14},{"t":5260,"v":20},{"t":5300,"v":14},{"t":5350,"v":19},{"t":5400,"v":13},{"t":5450,"v":18},{"t":5500,"v":12},{"t":5550,"v":17},{"t":5600,"v":12},{"t":5650,"v":16},{"t":5700,"v":11},{"t":5750,"v":15},{"t":5800,"v":11},{"t":5850,"v":16},{"t":5900,"v":12},{"t":5950,"v":18},{"t":6000,"v":14},{"t":6050,"v":20},{"t":6100,"v":16},{"t":6150,"v":22},{"t":6200,"v":15},{"t":6250,"v":24},{"t":6300,"v":14},{"t":6350,"v":19},{"t":6400,"v":12},{"t":6450,"v":17},{"t":6500,"v":10},{"t":6550,"v":14},{"t":6600,"v":9},{"t":6650,"v":13},{"t":6700,"v":8},{"t":6750,"v":12},{"t":6800,"v":8},{"t":6850,"v":12},{"t":6900,"v":7},{"t":6950,"v":11},{"t":7000,"v":7},{"t":7080,"v":11},{"t":7160,"v":6},{"t":7240,"v":10},{"t":7320,"v":6},{"t":7400,"v":10},{"t":7480,"v":6},{"t":7560,"v":9},{"t":7640,"v":5},{"t":7720,"v":9},{"t":7800,"v":5},{"t":7880,"v":8},{"t":7960,"v":5},{"t":8040,"v":8},{"t":8120,"v":4.5},{"t":8200,"v":8},{"t":8280,"v":4.5},{"t":8360,"v":7.5},{"t":8440,"v":4},{"t":8520,"v":7.5},{"t":8600,"v":4},{"t":8680,"v":7},{"t":8760,"v":4},{"t":8840,"v":7},{"t":8920,"v":3.5},{"t":9000,"v":7},{"t":9080,"v":3.5},{"t":9160,"v":6.5},{"t":9240,"v":3.5},{"t":9320,"v":6.5},{"t":9400,"v":3},{"t":9480,"v":6},{"t":9560,"v":3},{"t":9640,"v":6},{"t":9720,"v":3},{"t":9800,"v":6},{"t":9880,"v":3},{"t":9960,"v":5.5},{"t":10040,"v":3},{"t":10120,"v":5.5},{"t":10200,"v":2.5},{"t":10280,"v":5.5},{"t":10360,"v":2.5},{"t":10440,"v":5},{"t":10520,"v":2.5},{"t":10600,"v":5},{"t":10680,"v":2.5},{"t":10760,"v":5},{"t":10840,"v":3},{"t":10920,"v":5.5},{"t":11000,"v":3},{"t":11080,"v":5.5},{"t":11160,"v":3},{"t":11240,"v":6},{"t":11320,"v":4},{"t":11380,"v":7},{"t":11400,"v":14}],
"RD": [{"t":98,"v":27},{"t":108,"v":38},{"t":118,"v":33},{"t":128,"v":44},{"t":140,"v":40},{"t":152,"v":48},{"t":165,"v":44},{"t":178,"v":54},{"t":190,"v":48},{"t":202,"v":58},{"t":215,"v":50},{"t":228,"v":60},{"t":240,"v":52},{"t":255,"v":62},{"t":270,"v":54},{"t":285,"v":60},{"t":300,"v":52},{"t":315,"v":62},{"t":328,"v":56},{"t":338,"v":83},{"t":348,"v":56},{"t":360,"v":62},{"t":375,"v":54},{"t":390,"v":61},{"t":405,"v":53},{"t":420,"v":60},{"t":440,"v":52},{"t":460,"v":59},{"t":480,"v":51},{"t":500,"v":58},{"t":520,"v":50},{"t":540,"v":60},{"t":560,"v":50},{"t":580,"v":57},{"t":600,"v":49},{"t":620,"v":58},{"t":640,"v":48},{"t":660,"v":55},{"t":680,"v":46},{"t":700,"v":53},{"t":725,"v":45},{"t":750,"v":51},{"t":775,"v":43},{"t":800,"v":49},{"t":825,"v":41},{"t":850,"v":47},{"t":875,"v":39},{"t":900,"v":45},{"t":925,"v":37},{"t":950,"v":42},{"t":975,"v":35},{"t":1000,"v":40},{"t":1030,"v":33},{"t":1060,"v":38},{"t":1090,"v":31},{"t":1120,"v":36},{"t":1150,"v":29},{"t":1180,"v":34},{"t":1210,"v":28},{"t":1240,"v":33},{"t":1270,"v":27},{"t":1300,"v":31},{"t":1330,"v":25},{"t":1360,"v":30},{"t":1390,"v":24},{"t":1420,"v":28},{"t":1450,"v":23},{"t":1480,"v":27},{"t":1520,"v":22},{"t":1560,"v":26},{"t":1600,"v":21},{"t":1640,"v":25},{"t":1680,"v":20},{"t":1720,"v":23},{"t":1760,"v":19},{"t":1800,"v":22},{"t":1840,"v":18},{"t":1880,"v":21},{"t":1920,"v":17},{"t":1960,"v":20},{"t":2000,"v":16.5},{"t":2050,"v":19},{"t":2100,"v":16},{"t":2150,"v":18},{"t":2200,"v":15},{"t":2250,"v":17.5},{"t":2300,"v":14.5},{"t":2350,"v":17},{"t":2400,"v":14},{"t":2450,"v":16},{"t":2500,"v":13},{"t":2550,"v":15},{"t":2600,"v":12.5},{"t":2650,"v":14.5},{"t":2700,"v":12},{"t":2750,"v":14},{"t":2800,"v":11.5},{"t":2850,"v":13},{"t":2900,"v":11},{"t":2950,"v":12.5},{"t":3000,"v":10.5},{"t":3050,"v":12},{"t":3100,"v":10},{"t":3150,"v":11.5},{"t":3200,"v":9.5},{"t":3250,"v":11},{"t":3300,"v":9},{"t":3350,"v":10.5},{"t":3400,"v":8.8},{"t":3450,"v":10},{"t":3500,"v":8.5},{"t":3550,"v":9.5},{"t":3600,"v":8.2},{"t":3650,"v":9.2},{"t":3700,"v":8},{"t":3760,"v":9},{"t":3820,"v":12},{"t":3860,"v":8.5},{"t":3920,"v":7.5},{"t":3980,"v":8.5},{"t":4040,"v":7},{"t":4100,"v":8},{"t":4160,"v":6.6},{"t":4220,"v":7.5},{"t":4300,"v":6.2},{"t":4380,"v":7},{"t":4460,"v":5.8},{"t":4540,"v":6.6},{"t":4620,"v":5.5},{"t":4700,"v":6.2},{"t":4800,"v":5.2},{"t":4900,"v":5.8},{"t":5000,"v":4.8},{"t":5100,"v":5.4},{"t":5200,"v":4.5},{"t":5300,"v":5},{"t":5400,"v":4.2},{"t":5500,"v":4.7},{"t":5600,"v":4},{"t":5700,"v":4.4},{"t":5800,"v":3.7},{"t":5900,"v":4.1},{"t":6000,"v":3.5},{"t":6100,"v":3.8},{"t":6200,"v":3.2},{"t":6300,"v":3.5},{"t":6400,"v":3},{"t":6500,"v":3.3},{"t":6650,"v":2.8},{"t":6800,"v":3.1},{"t":6950,"v":2.6},{"t":7100,"v":2.9},{"t":7250,"v":2.4},{"t":7400,"v":2.7},{"t":7600,"v":2.3},{"t":7800,"v":2.5},{"t":8000,"v":2.1},{"t":8200,"v":2.3},{"t":8400,"v":2},{"t":8600,"v":2.2},{"t":8800,"v":1.9},{"t":9000,"v":2.1},{"t":9200,"v":1.8},{"t":9400,"v":2},{"t":9600,"v":1.7},{"t":9800,"v":1.9},{"t":10000,"v":1.6},{"t":10200,"v":1.8},{"t":10400,"v":1.5},{"t":10600,"v":1.7},{"t":10800,"v":1.5},{"t":11000,"v":1.7},{"t":11200,"v":1.4},{"t":11400,"v":1.5}],
"RE": [{"t":98,"v":2.7},{"t":110,"v":4},{"t":120,"v":3},{"t":130,"v":8},{"t":140,"v":6},{"t":150,"v":9.5},{"t":160,"v":7},{"t":170,"v":10},{"t":185,"v":6},{"t":200,"v":9.5},{"t":215,"v":7},{"t":230,"v":11},{"t":245,"v":8},{"t":260,"v":12},{"t":275,"v":9},{"t":290,"v":14},{"t":305,"v":10},{"t":320,"v":15},{"t":335,"v":11},{"t":350,"v":16},{"t":365,"v":12},{"t":380,"v":15},{"t":395,"v":10},{"t":410,"v":14},{"t":425,"v":9},{"t":440,"v":16},{"t":455,"v":11},{"t":470,"v":17},{"t":485,"v":12},{"t":500,"v":18},{"t":515,"v":13},{"t":530,"v":19},{"t":545,"v":14},{"t":560,"v":18},{"t":575,"v":12},{"t":590,"v":19},{"t":605,"v":14},{"t":620,"v":20},{"t":635,"v":13},{"t":650,"v":18},{"t":665,"v":12},{"t":680,"v":17},{"t":695,"v":11},{"t":710,"v":18},{"t":725,"v":13},{"t":740,"v":19},{"t":755,"v":14},{"t":770,"v":23},{"t":785,"v":12},{"t":800,"v":16},{"t":815,"v":10},{"t":830,"v":15},{"t":845,"v":9},{"t":860,"v":14},{"t":875,"v":11},{"t":890,"v":17},{"t":902,"v":19.5},{"t":915,"v":12},{"t":930,"v":16},{"t":945,"v":10},{"t":960,"v":15},{"t":975,"v":11},{"t":990,"v":16},{"t":1010,"v":10},{"t":1030,"v":15},{"t":1050,"v":9},{"t":1070,"v":16},{"t":1090,"v":10},{"t":1110,"v":15},{"t":1130,"v":9},{"t":1150,"v":14},{"t":1170,"v":10},{"t":1190,"v":15},{"t":1210,"v":9},{"t":1230,"v":14},{"t":1250,"v":8},{"t":1270,"v":13},{"t":1290,"v":9},{"t":1310,"v":14},{"t":1330,"v":8},{"t":1350,"v":13},{"t":1370,"v":7},{"t":1390,"v":12},{"t":1410,"v":8},{"t":1430,"v":13},{"t":1450,"v":7},{"t":1470,"v":12},{"t":1490,"v":7},{"t":1510,"v":11},{"t":1530,"v":8},{"t":1550,"v":13},{"t":1570,"v":7},{"t":1590,"v":12},{"t":1610,"v":8},{"t":1630,"v":13},{"t":1650,"v":9},{"t":1670,"v":12},{"t":1690,"v":7},{"t":1710,"v":11},{"t":1730,"v":6},{"t":1750,"v":11},{"t":1770,"v":7},{"t":1790,"v":12},{"t":1810,"v":6},{"t":1830,"v":11},{"t":1850,"v":7},{"t":1870,"v":10},{"t":1890,"v":6},{"t":1910,"v":11},{"t":1930,"v":7},{"t":1950,"v":12},{"t":1970,"v":6},{"t":1990,"v":11},{"t":2010,"v":7},{"t":2030,"v":12},{"t":2050,"v":8},{"t":2070,"v":11},{"t":2090,"v":6},{"t":2110,"v":4.5},{"t":2130,"v":5},{"t":2150,"v":12},{"t":2170,"v":14},{"t":2190,"v":10},{"t":2210,"v":13.5},{"t":2230,"v":9},{"t":2250,"v":13},{"t":2270,"v":9},{"t":2290,"v":12},{"t":2310,"v":8},{"t":2330,"v":11},{"t":2350,"v":7},{"t":2370,"v":9},{"t":2390,"v":5},{"t":2410,"v":7},{"t":2440,"v":4},{"t":2470,"v":6.5},{"t":2500,"v":4},{"t":2530,"v":6},{"t":2560,"v":3.5},{"t":2590,"v":6.5},{"t":2620,"v":4},{"t":2650,"v":6},{"t":2680,"v":3.5},{"t":2710,"v":6},{"t":2740,"v":3},{"t":2770,"v":5.5},{"t":2800,"v":3.5},{"t":2830,"v":6},{"t":2860,"v":3},{"t":2890,"v":5.5},{"t":2920,"v":3},{"t":2950,"v":5},{"t":2980,"v":3.5},{"t":3010,"v":6},{"t":3040,"v":3},{"t":3070,"v":5.5},{"t":3100,"v":4},{"t":3130,"v":6.5},{"t":3160,"v":4},{"t":3190,"v":7},{"t":3220,"v":4.5},{"t":3250,"v":7.5},{"t":3280,"v":4},{"t":3310,"v":6},{"t":3340,"v":3.5},{"t":3370,"v":5.5},{"t":3400,"v":3},{"t":3440,"v":5},{"t":3480,"v":2.5},{"t":3520,"v":5},{"t":3560,"v":3},{"t":3600,"v":5},{"t":3640,"v":2.5},{"t":3680,"v":4.5},{"t":3720,"v":2.5},{"t":3760,"v":5},{"t":3800,"v":3},{"t":3840,"v":5},{"t":3880,"v":2.5},{"t":3920,"v":4.5},{"t":3960,"v":2.5},{"t":4000,"v":5},{"t":4040,"v":3},{"t":4080,"v":5.5},{"t":4120,"v":3},{"t":4160,"v":6},{"t":4200,"v":3},{"t":4240,"v":5},{"t":4280,"v":2.5},{"t":4320,"v":4.5},{"t":4360,"v":2},{"t":4400,"v":3.6},{"t":4440,"v":2.1},{"t":4480,"v":4.2},{"t":4520,"v":2.6},{"t":4560,"v":1.8},{"t":4600,"v":3.9},{"t":4640,"v":2.4},{"t":4680,"v":3.1},{"t":4720,"v":1.6},{"t":4760,"v":3.7},{"t":4800,"v":2.2},{"t":4840,"v":4.4},{"t":4880,"v":2.7},{"t":4920,"v":1.9},{"t":4960,"v":3.4},{"t":5000,"v":2.5},{"t":5040,"v":1.4},{"t":5080,"v":3.8},{"t":5120,"v":2.3},{"t":5160,"v":3},{"t":5200,"v":1.7},{"t":5240,"v":4.1},{"t":5280,"v":2.6},{"t":5320,"v":3.5},{"t":5360,"v":4.6},{"t":5400,"v":2.4},{"t":5440,"v":3.3},{"t":5480,"v":1.8},{"t":5520,"v":3.9},{"t":5560,"v":2.2},{"t":5600,"v":1.5},{"t":5640,"v":3.4},{"t":5680,"v":2},{"t":5720,"v":2.9},{"t":5760,"v":1.4},{"t":5800,"v":3.6},{"t":5840,"v":2.3},{"t":5880,"v":1.6},{"t":5920,"v":3.2},{"t":5960,"v":2.1},{"t":6000,"v":3.7},{"t":6040,"v":1.9},{"t":6080,"v":2.8},{"t":6120,"v":3.9},{"t":6160,"v":2.4},{"t":6200,"v":4.2},{"t":6240,"v":2.9},{"t":6280,"v":4.8},{"t":6320,"v":3.1},{"t":6360,"v":5.2},{"t":6400,"v":3.4},{"t":6440,"v":4.6},{"t":6470,"v":6.5},{"t":6500,"v":3.3},{"t":6540,"v":4.4},{"t":6580,"v":2.1},{"t":6620,"v":3.6},{"t":6660,"v":1.8},{"t":6700,"v":3},{"t":6740,"v":2.2},{"t":6780,"v":3.5},{"t":6820,"v":1.5},{"t":6860,"v":2.7},{"t":6900,"v":3.3},{"t":6950,"v":1.9},{"t":7000,"v":3.2},{"t":7050,"v":1.4},{"t":7100,"v":2.8},{"t":7150,"v":1.8},{"t":7200,"v":3.6},{"t":7250,"v":1.2},{"t":7300,"v":2.5},{"t":7350,"v":2.9},{"t":7400,"v":1.5},{"t":7450,"v":3.4},{"t":7500,"v":2.2},{"t":7550,"v":1.3},{"t":7600,"v":3},{"t":7650,"v":2},{"t":7700,"v":3.8},{"t":7750,"v":1.6},{"t":7800,"v":2.6},{"t":7850,"v":1.1},{"t":7900,"v":3.1},{"t":7950,"v":2.3},{"t":8000,"v":1.7},{"t":8050,"v":3.5},{"t":8100,"v":1.9},{"t":8150,"v":2.8},{"t":8200,"v":1.2},{"t":8250,"v":3.3},{"t":8300,"v":2.4},{"t":8350,"v":1.6},{"t":8400,"v":3.7},{"t":8450,"v":2},{"t":8500,"v":1.4},{"t":8550,"v":2.9},{"t":8600,"v":2.2},{"t":8650,"v":3.4},{"t":8700,"v":1.3},{"t":8750,"v":2.7},{"t":8800,"v":1.8},{"t":8850,"v":3.2},{"t":8900,"v":2.5},{"t":8950,"v":1.2},{"t":9000,"v":3},{"t":9050,"v":2.1},{"t":9100,"v":1.5},{"t":9150,"v":3.6},{"t":9200,"v":1.9},{"t":9250,"v":2.6},{"t":9300,"v":1.1},{"t":9350,"v":3.1},{"t":9400,"v":2.3},{"t":9450,"v":1.6},{"t":9500,"v":2.9},{"t":9550,"v":1.3},{"t":9600,"v":3.4},{"t":9650,"v":2},{"t":9700,"v":1.5},{"t":9750,"v":2.8},{"t":9800,"v":1.8},{"t":9850,"v":3.3},{"t":9900,"v":1.2},{"t":9950,"v":2.6},{"t":10000,"v":3.5},{"t":10050,"v":1.7},{"t":10100,"v":2.4},{"t":10150,"v":1.1},{"t":10200,"v":3},{"t":10250,"v":2.2},{"t":10300,"v":1.4},{"t":10350,"v":3.2},{"t":10400,"v":1.9},{"t":10450,"v":2.7},{"t":10500,"v":1.3},{"t":10550,"v":3.4},{"t":10600,"v":2.1},{"t":10650,"v":1.6},{"t":10700,"v":3},{"t":10750,"v":1.8},{"t":10800,"v":2.5},{"t":10850,"v":1.2},{"t":10900,"v":3.3},{"t":10950,"v":2},{"t":11000,"v":1.5},{"t":11050,"v":2.9},{"t":11100,"v":1.7},{"t":11150,"v":3.1},{"t":11200,"v":2.2},{"t":11250,"v":1.3},{"t":11300,"v":3},{"t":11350,"v":2.4},{"t":11400,"v":0.5}]
},
"vconcat": [
{
"columns": 2,
"spacing": {"row": 27.5, "column": 95},
"bounds": "flush",
"concat": [
{"width": 482, "height": 138, "title": {"text": "Spraying", "fontSize": 31.5, "offset": 27},
 "layer": [
  {"data": {"name": "shade"}, "mark": {"type": "rect", "opacity": 0.45}, "encoding": {"x": {"field": "t", "type": "quantitative"}, "x2": {"field": "t2"}, "color": {"field": "phase", "type": "nominal", "scale": {"domain": ["spray", "transfer"], "range": ["#a4cee4", "#088508"]}, "legend": null}}},
  {"data": {"name": "LA"}, "mark": {"type": "line", "color": "#1010c8", "strokeWidth": 1.5}, "encoding": {"x": {"field": "t", "type": "quantitative", "scale": {"domain": [-30, 300], "nice": false, "zero": false}, "axis": {"values": [-30,0,30,60,90,120,150,180,210,240,270,300], "labels": false, "title": null}}, "y": {"field": "v", "type": "quantitative", "scale": {"domain": [-100, 2200], "nice": false, "zero": false}, "axis": {"values": [0,733,1467,2200], "labelExpr": "'' + datum.value", "title": "[ppmv]", "titleFontSize": 15}}}},
  {"data": {"name": "labels"}, "transform": [{"filter": "datum.panel == 'A'"}], "mark": {"type": "text", "align": "left", "baseline": "middle", "fontSize": 20, "fontWeight": "bold", "color": "#222"}, "encoding": {"x": {"datum": -19.5}, "y": {"datum": 1914}, "text": {"field": "letter"}}},
  {"data": {"name": "labels"}, "transform": [{"filter": "datum.panel == 'A'"}], "mark": {"type": "text", "align": "right", "baseline": "middle", "fontSize": 16.5, "color": "#333"}, "encoding": {"x": {"datum": 292}, "y": {"datum": 1914}, "text": {"field": "name"}}}
 ]},
{"width": 482, "height": 138, "title": {"text": "Drying", "fontSize": 31.5, "offset": 27},
 "layer": [
  {"data": {"name": "maxima"}, "transform": [{"filter": "datum.panel == 'A'"}], "mark": {"type": "rect", "color": "#a8d1e6"}, "encoding": {"x": {"field": "t", "type": "quantitative"}, "x2": {"field": "t2"}}},
  {"data": {"name": "RA"}, "mark": {"type": "line", "color": "#1010c8", "strokeWidth": 1.2}, "encoding": {"x": {"field": "t", "type": "quantitative", "scale": {"domain": [-451, 11945], "nice": false, "zero": false}, "axis": {"values": [500,1500,3000,4500,6000,7500,9000,10500], "labels": false, "title": null}}, "y": {"field": "v", "type": "quantitative", "scale": {"domain": [-9.6, 210], "nice": false, "zero": false}, "axis": {"values": [0,70,140,210], "labelExpr": "'' + datum.value", "title": null}}}},
  {"data": {"name": "labels"}, "transform": [{"filter": "datum.panel == 'A'"}], "mark": {"type": "text", "align": "left", "baseline": "middle", "fontSize": 20, "fontWeight": "bold", "color": "#222"}, "encoding": {"x": {"datum": -68}, "y": {"datum": 183}, "text": {"field": "letter"}}},
  {"data": {"name": "labels"}, "transform": [{"filter": "datum.panel == 'A'"}], "mark": {"type": "text", "align": "right", "baseline": "middle", "fontSize": 16.5, "color": "#333"}, "encoding": {"x": {"datum": 11660}, "y": {"datum": 183}, "text": {"field": "name"}}}
 ]},
{"width": 482, "height": 138,
 "layer": [
  {"data": {"name": "shade"}, "mark": {"type": "rect", "opacity": 0.45}, "encoding": {"x": {"field": "t", "type": "quantitative"}, "x2": {"field": "t2"}, "color": {"field": "phase", "type": "nominal", "scale": {"domain": ["spray", "transfer"], "range": ["#a4cee4", "#088508"]}, "legend": null}}},
  {"data": {"name": "LB"}, "mark": {"type": "line", "color": "#e8141c", "strokeWidth": 1.5}, "encoding": {"x": {"field": "t", "type": "quantitative", "scale": {"domain": [-30, 300], "nice": false, "zero": false}, "axis": {"values": [-30,0,30,60,90,120,150,180,210,240,270,300], "labels": false, "title": null}}, "y": {"field": "v", "type": "quantitative", "scale": {"domain": [-30, 660], "nice": false, "zero": false}, "axis": {"values": [0,220,440,660], "labelExpr": "'' + datum.value", "title": "[ppmv]", "titleFontSize": 15}}}},
  {"data": {"name": "labels"}, "transform": [{"filter": "datum.panel == 'B'"}], "mark": {"type": "text", "align": "left", "baseline": "middle", "fontSize": 20, "fontWeight": "bold", "color": "#222"}, "encoding": {"x": {"datum": -19.5}, "y": {"datum": 574}, "text": {"field": "letter"}}},
  {"data": {"name": "labels"}, "transform": [{"filter": "datum.panel == 'B'"}], "mark": {"type": "text", "align": "right", "baseline": "middle", "fontSize": 16.5, "color": "#333"}, "encoding": {"x": {"datum": 292}, "y": {"datum": 574}, "text": {"field": "name"}}}
 ]},
{"width": 482, "height": 138,
 "layer": [
  {"data": {"name": "maxima"}, "transform": [{"filter": "datum.panel == 'B'"}], "mark": {"type": "rect", "color": "#a8d1e6"}, "encoding": {"x": {"field": "t", "type": "quantitative"}, "x2": {"field": "t2"}}},
  {"data": {"name": "RB"}, "mark": {"type": "line", "color": "#e8141c", "strokeWidth": 1.2}, "encoding": {"x": {"field": "t", "type": "quantitative", "scale": {"domain": [-451, 11945], "nice": false, "zero": false}, "axis": {"values": [500,1500,3000,4500,6000,7500,9000,10500], "labels": false, "title": null}}, "y": {"field": "v", "type": "quantitative", "scale": {"domain": [-3.8, 84], "nice": false, "zero": false}, "axis": {"values": [0,28,56,84], "labelExpr": "'' + datum.value", "title": null}}}},
  {"data": {"name": "labels"}, "transform": [{"filter": "datum.panel == 'B'"}], "mark": {"type": "text", "align": "left", "baseline": "middle", "fontSize": 20, "fontWeight": "bold", "color": "#222"}, "encoding": {"x": {"datum": -68}, "y": {"datum": 73}, "text": {"field": "letter"}}},
  {"data": {"name": "labels"}, "transform": [{"filter": "datum.panel == 'B'"}], "mark": {"type": "text", "align": "right", "baseline": "middle", "fontSize": 16.5, "color": "#333"}, "encoding": {"x": {"datum": 11660}, "y": {"datum": 73}, "text": {"field": "name"}}}
 ]},
{"width": 482, "height": 138,
 "layer": [
  {"data": {"name": "shade"}, "mark": {"type": "rect", "opacity": 0.45}, "encoding": {"x": {"field": "t", "type": "quantitative"}, "x2": {"field": "t2"}, "color": {"field": "phase", "type": "nominal", "scale": {"domain": ["spray", "transfer"], "range": ["#a4cee4", "#088508"]}, "legend": null}}},
  {"data": {"name": "LC"}, "mark": {"type": "line", "color": "#000000", "strokeWidth": 1.5}, "encoding": {"x": {"field": "t", "type": "quantitative", "scale": {"domain": [-30, 300], "nice": false, "zero": false}, "axis": {"values": [-30,0,30,60,90,120,150,180,210,240,270,300], "labels": false, "title": null}}, "y": {"field": "v", "type": "quantitative", "scale": {"domain": [-11.6, 255], "nice": false, "zero": false}, "axis": {"values": [0,85,170,255], "labelExpr": "'' + datum.value", "title": "[ppmv]", "titleFontSize": 15}}}},
  {"data": {"name": "labels"}, "transform": [{"filter": "datum.panel == 'C'"}], "mark": {"type": "text", "align": "left", "baseline": "middle", "fontSize": 20, "fontWeight": "bold", "color": "#222"}, "encoding": {"x": {"datum": -19.5}, "y": {"datum": 222}, "text": {"field": "letter"}}},
  {"data": {"name": "labels"}, "transform": [{"filter": "datum.panel == 'C'"}], "mark": {"type": "text", "align": "right", "baseline": "middle", "fontSize": 16.5, "color": "#333"}, "encoding": {"x": {"datum": 292}, "y": {"datum": 222}, "text": {"field": "name"}}}
 ]},
{"width": 482, "height": 138,
 "layer": [
  {"data": {"name": "maxima"}, "transform": [{"filter": "datum.panel == 'C'"}], "mark": {"type": "rect", "color": "#a8d1e6"}, "encoding": {"x": {"field": "t", "type": "quantitative"}, "x2": {"field": "t2"}}},
  {"data": {"name": "RC"}, "mark": {"type": "line", "color": "#000000", "strokeWidth": 1.2}, "encoding": {"x": {"field": "t", "type": "quantitative", "scale": {"domain": [-451, 11945], "nice": false, "zero": false}, "axis": {"values": [500,1500,3000,4500,6000,7500,9000,10500], "labels": false, "title": null}}, "y": {"field": "v", "type": "quantitative", "scale": {"domain": [-11.6, 255], "nice": false, "zero": false}, "axis": {"values": [0,85,170,255], "labelExpr": "'' + datum.value", "title": null}}}},
  {"data": {"name": "labels"}, "transform": [{"filter": "datum.panel == 'C'"}], "mark": {"type": "text", "align": "left", "baseline": "middle", "fontSize": 20, "fontWeight": "bold", "color": "#222"}, "encoding": {"x": {"datum": -68}, "y": {"datum": 222}, "text": {"field": "letter"}}},
  {"data": {"name": "labels"}, "transform": [{"filter": "datum.panel == 'C'"}], "mark": {"type": "text", "align": "right", "baseline": "middle", "fontSize": 16.5, "color": "#333"}, "encoding": {"x": {"datum": 11660}, "y": {"datum": 222}, "text": {"field": "name"}}}
 ]},
{"width": 482, "height": 138,
 "layer": [
  {"data": {"name": "shade"}, "mark": {"type": "rect", "opacity": 0.45}, "encoding": {"x": {"field": "t", "type": "quantitative"}, "x2": {"field": "t2"}, "color": {"field": "phase", "type": "nominal", "scale": {"domain": ["spray", "transfer"], "range": ["#a4cee4", "#088508"]}, "legend": null}}},
  {"data": {"name": "LD"}, "mark": {"type": "line", "color": "#a52a2a", "strokeWidth": 1.5}, "encoding": {"x": {"field": "t", "type": "quantitative", "scale": {"domain": [-30, 300], "nice": false, "zero": false}, "axis": {"values": [-30,0,30,60,90,120,150,180,210,240,270,300], "labels": false, "title": null}}, "y": {"field": "v", "type": "quantitative", "scale": {"domain": [-16.4, 360], "nice": false, "zero": false}, "axis": {"values": [0,120,240,360], "labelExpr": "'' + datum.value", "title": "[ppmv]", "titleFontSize": 15}}}},
  {"data": {"name": "labels"}, "transform": [{"filter": "datum.panel == 'D'"}], "mark": {"type": "text", "align": "left", "baseline": "middle", "fontSize": 20, "fontWeight": "bold", "color": "#222"}, "encoding": {"x": {"datum": -19.5}, "y": {"datum": 313}, "text": {"field": "letter"}}},
  {"data": {"name": "labels"}, "transform": [{"filter": "datum.panel == 'D'"}], "mark": {"type": "text", "align": "right", "baseline": "middle", "fontSize": 16.5, "color": "#333"}, "encoding": {"x": {"datum": 292}, "y": {"datum": 313}, "text": {"field": "name"}}}
 ]},
{"width": 482, "height": 138,
 "layer": [
  {"data": {"name": "maxima"}, "transform": [{"filter": "datum.panel == 'D'"}], "mark": {"type": "rect", "color": "#a8d1e6"}, "encoding": {"x": {"field": "t", "type": "quantitative"}, "x2": {"field": "t2"}}},
  {"data": {"name": "RD"}, "mark": {"type": "line", "color": "#a52a2a", "strokeWidth": 1.2}, "encoding": {"x": {"field": "t", "type": "quantitative", "scale": {"domain": [-451, 11945], "nice": false, "zero": false}, "axis": {"values": [500,1500,3000,4500,6000,7500,9000,10500], "labels": false, "title": null}}, "y": {"field": "v", "type": "quantitative", "scale": {"domain": [-5.5, 120], "nice": false, "zero": false}, "axis": {"values": [0,40,80,120], "labelExpr": "'' + datum.value", "title": null}}}},
  {"data": {"name": "labels"}, "transform": [{"filter": "datum.panel == 'D'"}], "mark": {"type": "text", "align": "left", "baseline": "middle", "fontSize": 20, "fontWeight": "bold", "color": "#222"}, "encoding": {"x": {"datum": -68}, "y": {"datum": 104}, "text": {"field": "letter"}}},
  {"data": {"name": "labels"}, "transform": [{"filter": "datum.panel == 'D'"}], "mark": {"type": "text", "align": "right", "baseline": "middle", "fontSize": 16.5, "color": "#333"}, "encoding": {"x": {"datum": 11660}, "y": {"datum": 104}, "text": {"field": "name"}}}
 ]},
{"width": 482, "height": 138,
 "layer": [
  {"data": {"name": "shade"}, "mark": {"type": "rect", "opacity": 0.45}, "encoding": {"x": {"field": "t", "type": "quantitative"}, "x2": {"field": "t2"}, "color": {"field": "phase", "type": "nominal", "scale": {"domain": ["spray", "transfer"], "range": ["#a4cee4", "#088508"]}, "legend": null}}},
  {"data": {"name": "LE"}, "mark": {"type": "line", "color": "#ffa500", "strokeWidth": 1.5}, "encoding": {"x": {"field": "t", "type": "quantitative", "scale": {"domain": [-30, 300], "nice": false, "zero": false}, "axis": {"values": [-30,0,30,60,90,120,150,180,210,240,270,300], "title": "Time [s]", "labelPadding": 2, "labelExpr": "datum.value > 0 && datum.value % 60 == 0 ? ['' + datum.value, (datum.value / 60) + ' min'] : '' + datum.value"}}, "y": {"field": "v", "type": "quantitative", "scale": {"domain": [-1.5, 33], "nice": false, "zero": false}, "axis": {"values": [0,11,22,33], "labelExpr": "'' + datum.value", "title": "[ppmv]", "titleFontSize": 15}}}},
  {"data": {"name": "labels"}, "transform": [{"filter": "datum.panel == 'E'"}], "mark": {"type": "text", "align": "left", "baseline": "middle", "fontSize": 20, "fontWeight": "bold", "color": "#222"}, "encoding": {"x": {"datum": -19.5}, "y": {"datum": 28.7}, "text": {"field": "letter"}}},
  {"data": {"name": "labels"}, "transform": [{"filter": "datum.panel == 'E'"}], "mark": {"type": "text", "align": "right", "baseline": "middle", "fontSize": 16.5, "color": "#333"}, "encoding": {"x": {"datum": 292}, "y": {"datum": 28.7}, "text": {"field": "name"}}}
 ]},
{"width": 482, "height": 138,
 "layer": [
  {"data": {"name": "maxima"}, "transform": [{"filter": "datum.panel == 'E'"}], "mark": {"type": "rect", "color": "#a8d1e6"}, "encoding": {"x": {"field": "t", "type": "quantitative"}, "x2": {"field": "t2"}}},
  {"data": {"name": "RE"}, "mark": {"type": "line", "color": "#ffa500", "strokeWidth": 1.2}, "encoding": {"x": {"field": "t", "type": "quantitative", "scale": {"domain": [-451, 11945], "nice": false, "zero": false}, "axis": {"values": [500,1500,3000,4500,6000,7500,9000,10500], "title": "Time [s]", "labelPadding": 2, "labelExpr": "datum.value % 3000 == 1500 ? ['' + datum.value, (datum.value / 60) + ' min'] : '' + datum.value"}}, "y": {"field": "v", "type": "quantitative", "scale": {"domain": [-1.5, 33], "nice": false, "zero": false}, "axis": {"values": [0,11,22,33], "labelExpr": "'' + datum.value", "title": null}}}},
  {"data": {"name": "labels"}, "transform": [{"filter": "datum.panel == 'E'"}], "mark": {"type": "text", "align": "left", "baseline": "middle", "fontSize": 20, "fontWeight": "bold", "color": "#222"}, "encoding": {"x": {"datum": -68}, "y": {"datum": 28.7}, "text": {"field": "letter"}}},
  {"data": {"name": "labels"}, "transform": [{"filter": "datum.panel == 'E'"}], "mark": {"type": "text", "align": "right", "baseline": "middle", "fontSize": 16.5, "color": "#333"}, "encoding": {"x": {"datum": 11660}, "y": {"datum": 28.7}, "text": {"field": "name"}}}
 ]}
]
},
{"width": 1311, "height": 120, "view": {"stroke": null},
 "data": {"name": "caption"},
 "layer": [
  {"transform": [{"filter": "datum.kind == 'head'"}], "mark": {"type": "text", "align": "left", "baseline": "middle", "font": "Open Sans", "fontSize": 13, "color": "#666"}, "encoding": {"x": {"datum": 0, "scale": {"domain": [0, 1]}, "axis": null}, "y": {"field": "line", "type": "quantitative", "scale": {"domain": [0, 5], "reverse": true}, "axis": null}, "text": {"field": "text"}}},
  {"transform": [{"filter": "datum.kind == 'body'"}], "mark": {"type": "text", "align": "left", "baseline": "middle", "font": "Open Sans", "fontSize": 18, "color": "#555"}, "encoding": {"x": {"datum": 0}, "y": {"field": "line", "type": "quantitative"}, "text": {"field": "text"}}},
  {"transform": [{"filter": "datum.kind == 'link'"}], "mark": {"type": "text", "align": "left", "baseline": "middle", "font": "Open Sans", "fontSize": 18, "color": "#1ba3c6"}, "encoding": {"x": {"datum": 0.5134}, "y": {"field": "line", "type": "quantitative"}, "text": {"field": "text"}}},
  {"transform": [{"filter": "datum.kind == 'dot'"}], "mark": {"type": "text", "align": "left", "baseline": "middle", "font": "Open Sans", "fontSize": 18, "color": "#555"}, "encoding": {"x": {"datum": 0.5622}, "y": {"field": "line", "type": "quantitative"}, "text": {"field": "text"}}}
 ]}
],
"spacing": 26,
"center": true,
"config": {
 "font": "Liberation Sans",
 "view": {"stroke": "#4a4a4a", "strokeWidth": 1.4},
 "title": {"font": "Liberation Sans", "fontWeight": "normal", "color": "#222"},
 "axis": {"labelFont": "Liberation Sans", "labelFontSize": 14, "labelColor": "#222", "titleFont": "Liberation Sans", "titleFontSize": 17, "titleFontWeight": "normal", "titleColor": "#222", "gridColor": "#d2d2d2", "gridWidth": 1, "grid": true, "domain": false, "ticks": false, "labelPadding": 4, "minExtent": 0, "labelFlush": false, "labelOverlap": false, "labelLineHeight": 15, "titlePadding": 4}
}
}
